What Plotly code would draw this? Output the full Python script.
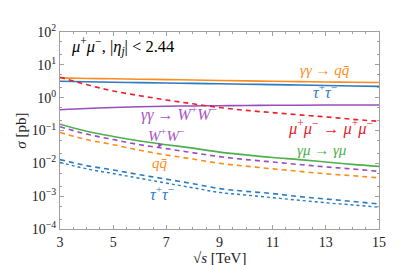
import plotly.graph_objects as go

sqrt_s = [3, 4, 5, 6, 7, 8, 9, 10, 11, 12, 13, 14, 15]

aa_qq = [4.0, 3.85, 3.75, 3.65, 3.55, 3.45, 3.35, 3.25, 3.15, 3.08, 3.0, 2.95, 2.9]
aa_tautau = [3.15, 3.05, 2.95, 2.88, 2.8, 2.72, 2.65, 2.57, 2.5, 2.42, 2.35, 2.27, 2.2]
aa_ww = [0.43, 0.47, 0.50, 0.53, 0.55, 0.56, 0.57, 0.58, 0.585, 0.59, 0.595, 0.6, 0.6]
mumu_mumu = [4.2, 2.5, 1.6, 1.15, 0.85, 0.65, 0.50, 0.41, 0.35, 0.30, 0.26, 0.22, 0.19]
amu_amu = [0.155, 0.095, 0.066, 0.048, 0.037, 0.029, 0.022, 0.018, 0.015, 0.013, 0.011, 0.0093, 0.0081]
mumu_ww = [0.13, 0.078, 0.053, 0.037, 0.028, 0.021, 0.016, 0.013, 0.011, 0.0092, 0.0078, 0.0067, 0.0057]
mumu_qq = [0.087, 0.053, 0.037, 0.025, 0.018, 0.0135, 0.0100, 0.0082, 0.0068, 0.0057, 0.0048, 0.0042, 0.0036]
mumu_tautau_a = [0.013, 0.0085, 0.0063, 0.0045, 0.0033, 0.0024, 0.0017, 0.0014, 0.0012, 0.00097, 0.00082, 0.00069, 0.00058]
mumu_tautau_b = [0.0107, 0.0068, 0.0049, 0.0035, 0.0025, 0.0018, 0.0013, 0.00108, 0.0009, 0.00075, 0.00063, 0.00054, 0.00046]

y_tickvals = [1e-4, 1e-3, 1e-2, 1e-1, 1, 10, 100]
y_ticktext = ["10<sup>−4</sup>", "10<sup>−3</sup>", "10<sup>−2</sup>", "10<sup>−1</sup>",
              "10<sup>0</sup>", "10<sup>1</sup>", "10<sup>2</sup>"]
x_tickvals = [3, 5, 7, 9, 11, 13, 15]

ORANGE = "#ff8c1a"
BLUE = "#2a7bbf"
PURPLE = "#9b4dbb"
RED = "#e8202a"
GREEN = "#4cb04c"
PURPLE_TXT = "#a855c4"

fig = go.Figure()

def add(y, color, dash="solid", width=1.6):
    fig.add_trace(go.Scatter(x=sqrt_s, y=y, mode="lines",
                             line=dict(color=color, dash=dash, width=width, shape="spline"),
                             showlegend=False, hoverinfo="skip"))

add(aa_qq, ORANGE)
add(aa_tautau, BLUE)
add(aa_ww, PURPLE)
add(mumu_mumu, RED, dash="5px,4px")
add(amu_amu, GREEN)
add(mumu_ww, PURPLE, dash="5px,4px")
add(mumu_qq, ORANGE, dash="5px,4px")
add(mumu_tautau_a, BLUE, dash="5px,4px")
add(mumu_tautau_b, BLUE, dash="dot", width=1.4)

FONT = "Liberation Serif"

def label(x, logy, text, color, size=15, xanchor="center"):
    fig.add_annotation(x=x, y=logy, text=text, showarrow=False, xanchor=xanchor,
                       yanchor="middle", font=dict(family=FONT, size=size, color=color))

label(3.35, 1.56, "<i>μ</i><sup>+</sup><i>μ</i><sup>−</sup>, |<i>η<sub>j</sub></i>| &lt; 2.44",
      "black", size=16.5, xanchor="left")
label(12.97, 0.84, "<i>γγ</i> → <i>qq̄</i>", ORANGE)
label(12.97, 0.20, "<i>τ</i><sup>+</sup><i>τ</i><sup>−</sup>", BLUE, size=16)
label(7.48, -0.49, "<i>γγ</i> → <i>W</i><sup>+</sup><i>W</i><sup>−</sup>", PURPLE_TXT, size=16)
label(13.16, -0.92, "<i>μ</i><sup>+</sup><i>μ</i><sup>−</sup> → <i>μ</i><sup>+</sup><i>μ</i><sup>−</sup>", RED, size=16.5)
label(12.86, -1.58, "<i>γμ</i> → <i>γμ</i>", GREEN)
label(6.76, -2.00, "<i>qq̄</i>", ORANGE)
label(6.84, -2.90, "<i>τ</i><sup>+</sup><i>τ</i><sup>−</sup>", BLUE, size=16)

fig.add_annotation(x=6.69, y=-1.526, ax=8, ay=-13,
                   text="<i>W</i><sup>+</sup><i>W</i><sup>−</sup>",
                   showarrow=True, arrowhead=2, arrowsize=0.8, arrowwidth=1.2,
                   arrowcolor=PURPLE, standoff=0,
                   font=dict(family=FONT, size=15, color=PURPLE_TXT))

# axis titles
fig.add_annotation(xref="paper", yref="paper", x=0.5, y=-0.145, yanchor="middle",
                   text="√<i>s</i> [TeV]", showarrow=False,
                   font=dict(family=FONT, size=15, color="#222"))
fig.add_annotation(xref="paper", yref="paper", x=-0.125, y=0.5, xanchor="center",
                   yanchor="middle", textangle=-90,
                   text="<i>σ</i> [pb]", showarrow=False,
                   font=dict(family=FONT, size=15, color="#222"))

axis_common = dict(showline=True, linecolor="#a0a0a0", linewidth=1, mirror="allticks",
                   ticks="inside", tickcolor="#a0a0a0", ticklen=4, showgrid=False,
                   zeroline=False, tickfont=dict(family=FONT, size=14, color="#222"))

fig.update_xaxes(range=[3, 15], tickvals=x_tickvals,
                 minor=dict(dtick=0.5, tick0=3, ticks="inside", ticklen=2, tickcolor="#a0a0a0"),
                 **axis_common)
fig.update_yaxes(type="log", range=[-4, 2], tickvals=y_tickvals, ticktext=y_ticktext,
                 minor=dict(ticks="inside", ticklen=2, tickcolor="#a0a0a0", showgrid=False),
                 **axis_common)

fig.update_layout(width=391, height=257, margin=dict(l=52, r=20, t=24, b=36),
                  paper_bgcolor="white", plot_bgcolor="white",
                  font=dict(family=FONT))

fig.write_html("out.html")
